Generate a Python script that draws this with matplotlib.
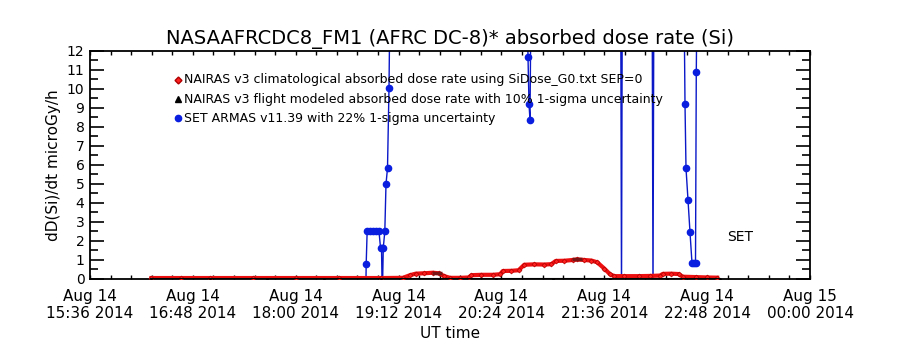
import datetime as dt
import matplotlib
matplotlib.use("Agg")
import matplotlib.pyplot as plt
import matplotlib.dates as mdates

# ---------------- data ----------------
day0 = "2014-08-14"

red_times = ["16:19", "16:40", "17:00", "17:30", "18:00", "18:30", "19:00", "19:15",
             "19:20", "19:24", "19:30", "19:36", "19:40", "19:44", "19:48", "19:55",
             "20:01", "20:03", "20:10", "20:18", "20:23", "20:25", "20:31", "20:36",
             "20:40", "20:47", "20:54", "20:59", "21:02", "21:08", "21:14", "21:17",
             "21:22", "21:27", "21:31", "21:36", "21:40", "21:43", "21:50", "22:00",
             "22:08", "22:15", "22:17", "22:23", "22:28", "22:31", "22:40", "22:48",
             "22:55"]
red_values = [0.05, 0.05, 0.05, 0.05, 0.05, 0.05, 0.05, 0.06,
              0.20, 0.28, 0.30, 0.33, 0.30, 0.15, 0.06, 0.06,
              0.08, 0.20, 0.22, 0.22, 0.25, 0.42, 0.43, 0.46,
              0.75, 0.77, 0.76, 0.78, 0.95, 0.96, 1.00, 1.03,
              1.00, 0.97, 0.88, 0.55, 0.25, 0.15, 0.15, 0.15,
              0.16, 0.18, 0.27, 0.28, 0.26, 0.12, 0.10, 0.08,
              0.07]

black_times = ["16:19", "17:00", "17:40", "18:20", "19:00", "19:40", "20:20",
               "21:00", "21:40", "22:20", "22:57"]
black_values = [0.02, 0.02, 0.02, 0.02, 0.02, 0.02, 0.02, 0.02, 0.02, 0.02, 0.02]
black_peak_times = ["19:38:54", "21:16:54"]
black_peak_values = [0.30, 1.05]

blue_times = ["18:49:00", "18:49:20", "18:50:00", "18:52:00", "18:54:06", "18:56:12",
              "18:58:18", "18:59:21", "19:00:03", "19:00:36", "19:01:18", "19:02:22",
              "19:03:12", "19:04:15", "19:05:18", "19:06:00", "19:30:00", "20:00:00",
              "20:30:00", "20:41:54", "20:42:36", "20:43:18", "20:44:00", "20:44:42",
              "21:15:00", "21:47:30", "21:48:03", "21:48:36", "22:09:30", "22:10:06",
              "22:10:42", "22:31:48", "22:32:30", "22:33:12", "22:34:36", "22:36:00",
              "22:37:24", "22:38:48", "22:39:51", "22:40:24", "22:40:54"]
blue_values = [-1.0, 0.80, 2.50, 2.50, 2.50, 2.50,
               2.50, 1.65, 1.65, -1.0, 1.65, 2.50,
               5.00, 5.83, 10.04, 15.0, 15.0, 15.0,
               15.0, 15.0, 11.70, 9.20, 8.37, 15.0,
               15.0, 15.0, -1.0, 15.0, 15.0, -1.0,
               15.0, 15.0, 9.20, 5.83, 4.16, 2.46,
               0.83, 0.83, 0.83, 10.88, 15.0]

x_start = "2014-08-14 15:36"
x_end = "2014-08-15 00:00"
y_ticks = list(range(0, 13))

title = "NASAAFRCDC8_FM1 (AFRC DC-8)* absorbed dose rate (Si)"
ylabel = "dD(Si)/dt microGy/h"
xlabel = "UT time"
legend_labels = ["NAIRAS v3 climatological absorbed dose rate using SiDose_G0.txt SEP=0",
                 "NAIRAS v3 flight modeled absorbed dose rate with 10% 1-sigma uncertainty",
                 "SET ARMAS v11.39 with 22% 1-sigma uncertainty"]


def to_dt(ts):
    fmt = "%Y-%m-%d %H:%M:%S" if ts.count(":") == 2 else "%Y-%m-%d %H:%M"
    return dt.datetime.strptime(day0 + " " + ts, fmt)


red_t = [to_dt(t) for t in red_times]
black_t = [to_dt(t) for t in black_times]
blackp_t = [to_dt(t) for t in black_peak_times]
blue_t = [to_dt(t) for t in blue_times]

plt.rcParams['font.family'] = ['DejaVu Sans']

fig = plt.figure(figsize=(9, 3.5), dpi=100)
ax = fig.add_axes([0.1, 0.2029, 0.8, 0.6514])

blue_col = "#0a1ee0"
ax.plot(blue_t, blue_values, color="#0a18c8", lw=1.0, marker="o", ms=4.5,
        mfc=blue_col, mec=blue_col, zorder=2)
ax.plot(red_t, red_values, color="#ee1010", lw=3.0, marker="D", ms=2.5,
        mfc="#ff2020", mec="#b00000", mew=0.5, zorder=3)
ax.plot(black_t, black_values, color="black", lw=1.5, marker="^", ms=1.5, zorder=4)
ax.plot(blackp_t, black_peak_values, ls="none", marker="_", ms=7, mew=2.5,
        color="#7a1515", zorder=5)

xmin = dt.datetime.strptime(x_start, "%Y-%m-%d %H:%M")
xmax = dt.datetime.strptime(x_end, "%Y-%m-%d %H:%M")
ax.set_xlim(xmin, xmax)
ax.set_ylim(0, 12)

major = [xmin + dt.timedelta(minutes=72 * i) for i in range(8)]
minor = [xmin + dt.timedelta(minutes=14.4 * i) for i in range(36)]
ax.set_xticks(major)
ax.set_xticks(minor, minor=True)
ax.set_xticklabels([d.strftime("%b %d\n%H:%M %Y") for d in major], fontsize=11,
                   linespacing=1.15)
ax.set_yticks(y_ticks)
ax.set_yticks([v + 0.5 for v in y_ticks[:-1]], minor=True)
ax.set_yticklabels([str(v) for v in y_ticks], fontsize=10)

ax.tick_params(axis="x", which="both", direction="in", top=True, bottom=True,
               length=3, width=1, pad=7)
ax.tick_params(axis="y", which="major", direction="in", left=True, right=True,
               length=10, width=1.2, pad=4)
ax.tick_params(axis="y", which="minor", direction="in", left=True, right=True,
               length=5.5, width=1.2)
for s in ax.spines.values():
    s.set_linewidth(1.3)

ax.set_title(title, fontsize=14, pad=5)
ax.set_ylabel(ylabel, fontsize=11, labelpad=4)
ax.set_xlabel(xlabel, fontsize=11, labelpad=4)

# legend-like annotation
leg_y = [0.873, 0.788, 0.704]
ax.plot([0.122], [leg_y[0]], transform=ax.transAxes, marker="D", ms=3.5,
        mfc="#ff2020", mec="#b00000", ls="none", clip_on=False)
ax.plot([0.122], [leg_y[1]], transform=ax.transAxes, marker="^", ms=4,
        color="black", ls="none", clip_on=False)
ax.plot([0.122], [leg_y[2]], transform=ax.transAxes, marker="o", ms=4.5,
        color=blue_col, ls="none", clip_on=False)
for yy, lab in zip(leg_y, legend_labels):
    ax.text(0.131, yy, lab, transform=ax.transAxes, fontsize=9, va="center", ha="left")

ax.text(0.885, 0.184, "SET", transform=ax.transAxes, fontsize=10, va="center", ha="left")

fig.savefig("out.png", dpi=100)
